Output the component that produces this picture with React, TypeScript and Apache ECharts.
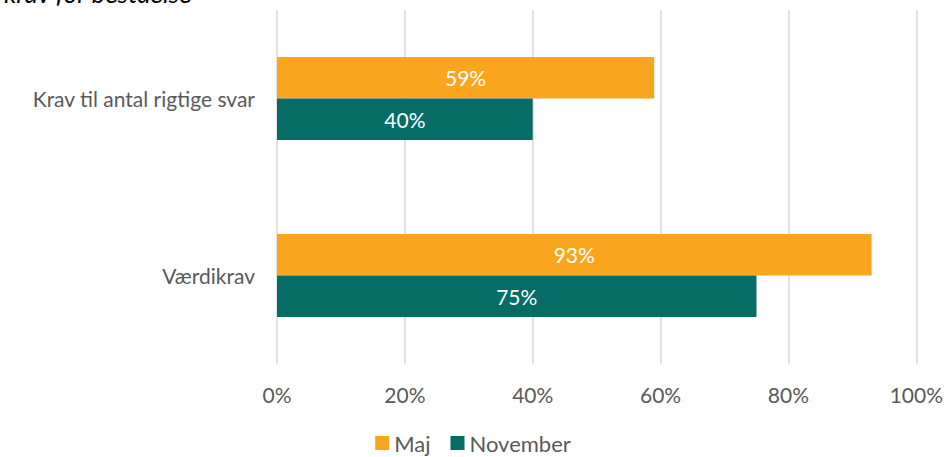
import React, { useEffect, useRef } from "react";
import * as echarts from "echarts";

const categories = ["Krav til antal rigtige svar", "Værdikrav"];
const majValues = [59, 93];
const novemberValues = [40, 75];
const seriesNames = ["Maj", "November"];
const titleText = "krav for beståelse";

export default function App() {
  const ref = useRef<HTMLDivElement>(null);
  useEffect(() => {
    if (!ref.current) return;
    const chart = echarts.init(ref.current, undefined, { renderer: "svg" });
    const font = "Lato, 'Open Sans', sans-serif";
    const fs = 21;
    chart.setOption({
      animation: false,
      textStyle: { fontFamily: font },
      graphic: [
        {
          type: "text",
          left: 4,
          top: -20,
          style: {
            text: titleText,
            font: `italic 26px ${font}`,
            fill: "#000",
          },
        },
      ],
      legend: {
        data: seriesNames,
        bottom: -2,
        left: "center",
        itemWidth: 14,
        itemHeight: 14,
        itemGap: 20,
        icon: "rect",
        textStyle: { fontSize: 22, color: "#595959", fontFamily: font },
      },
      grid: { left: 277, right: 28, top: 10, bottom: 93 },
      xAxis: {
        type: "value",
        min: 0,
        max: 100,
        interval: 20,
        axisLabel: {
          formatter: "{value}%",
          fontSize: fs,
          color: "#595959",
          margin: 20,
          fontFamily: font,
        },
        splitLine: { lineStyle: { color: "#d9d9d9", width: 1.5 } },
        axisLine: { show: false },
        axisTick: { show: false },
      },
      yAxis: {
        type: "category",
        inverse: true,
        data: categories,
        axisLabel: { fontSize: fs, color: "#595959", margin: 22, fontFamily: font },
        axisLine: { show: false },
        axisTick: { show: false },
      },
      series: [
        {
          name: seriesNames[0],
          type: "bar",
          data: majValues,
          itemStyle: { color: "#F9A61E" },
          barGap: "0%",
          barCategoryGap: "53%",
          label: {
            show: true,
            position: "inside",
            formatter: "{c}%",
            color: "#fff",
            fontSize: fs,
            fontFamily: font,
          },
        },
        {
          name: seriesNames[1],
          type: "bar",
          data: novemberValues,
          itemStyle: { color: "#066C66" },
          barGap: "0%",
          barCategoryGap: "53%",
          label: {
            show: true,
            position: "inside",
            formatter: "{c}%",
            color: "#fff",
            fontSize: fs,
            fontFamily: font,
          },
        },
      ],
    });
    return () => chart.dispose();
  }, []);
  return (
    <div
      ref={ref}
      style={{ position: "absolute", left: 0, top: 0, width: 946, height: 457 }}
    />
  );
}
